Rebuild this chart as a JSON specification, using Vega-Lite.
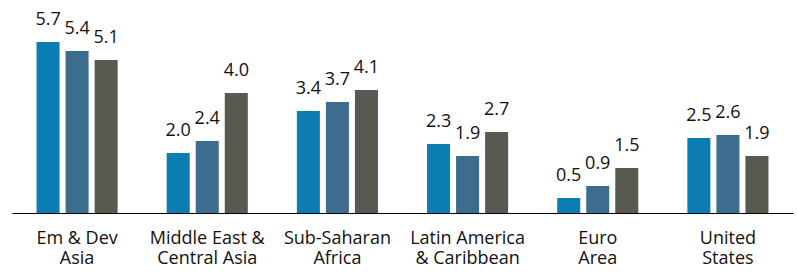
{
  "$schema": "https://vega.github.io/schema/vega-lite/v6.json",
  "width": 781,
  "height": 210,
  "autosize": {"type": "none"},
  "padding": {"left": 12, "top": 3, "right": 4, "bottom": 59},
  "background": "white",
  "data": {
    "values": [
      {"region": "Em & Dev|Asia", "series": "S1", "value": 5.7},
      {"region": "Em & Dev|Asia", "series": "S2", "value": 5.4},
      {"region": "Em & Dev|Asia", "series": "S3", "value": 5.1},
      {"region": "Middle East &|Central Asia", "series": "S1", "value": 2.0},
      {"region": "Middle East &|Central Asia", "series": "S2", "value": 2.4},
      {"region": "Middle East &|Central Asia", "series": "S3", "value": 4.0},
      {"region": "Sub-Saharan|Africa", "series": "S1", "value": 3.4},
      {"region": "Sub-Saharan|Africa", "series": "S2", "value": 3.7},
      {"region": "Sub-Saharan|Africa", "series": "S3", "value": 4.1},
      {"region": "Latin America|& Caribbean", "series": "S1", "value": 2.3},
      {"region": "Latin America|& Caribbean", "series": "S2", "value": 1.9},
      {"region": "Latin America|& Caribbean", "series": "S3", "value": 2.7},
      {"region": "Euro|Area", "series": "S1", "value": 0.5},
      {"region": "Euro|Area", "series": "S2", "value": 0.9},
      {"region": "Euro|Area", "series": "S3", "value": 1.5},
      {"region": "United|States", "series": "S1", "value": 2.5},
      {"region": "United|States", "series": "S2", "value": 2.6},
      {"region": "United|States", "series": "S3", "value": 1.9}
    ]
  },
  "encoding": {
    "x": {
      "field": "region",
      "type": "nominal",
      "sort": null,
      "scale": {"paddingInner": 0, "paddingOuter": 0},
      "axis": {
        "title": null,
        "labelExpr": "split(datum.label, '|')",
        "labelAngle": 0,
        "ticks": false,
        "domainColor": "#000000",
        "domainWidth": 1.2,
        "labelFont": "Open Sans",
        "labelFontSize": 18,
        "labelColor": "#111111",
        "labelLineHeight": 20.5,
        "labelPadding": 16
      }
    },
    "xOffset": {
      "field": "series",
      "type": "nominal",
      "sort": null,
      "scale": {"paddingInner": 0.207, "paddingOuter": 0.845}
    },
    "y": {
      "field": "value",
      "type": "quantitative",
      "scale": {"domain": [0, 7], "nice": false},
      "axis": null
    }
  },
  "layer": [
    {
      "mark": {"type": "bar"},
      "encoding": {
        "color": {
          "field": "series",
          "type": "nominal",
          "sort": null,
          "scale": {"range": ["#0b7db3", "#3c6d8f", "#575a51"]},
          "legend": null
        }
      }
    },
    {
      "mark": {"type": "text", "baseline": "alphabetic", "dy": -17, "font": "Open Sans", "fontSize": 18, "color": "#111111"},
      "encoding": {
        "text": {"field": "value", "type": "quantitative", "format": ".1f"}
      }
    }
  ],
  "config": {"view": {"stroke": null}}
}
